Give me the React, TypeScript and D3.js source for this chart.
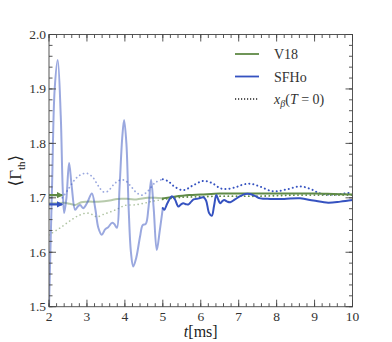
import React from 'react';
import * as d3 from 'd3';

// each series is a list of [t (ms), <Gamma_th>]
const sfhoEarly: [number, number][] = [
  [2.0, 1.5], [2.08, 1.72], [2.15, 1.9], [2.23, 1.953], [2.31, 1.85], [2.36, 1.72],
  [2.4, 1.672], [2.46, 1.7], [2.53, 1.764], [2.6, 1.72], [2.69, 1.678], [2.76, 1.684],
  [2.82, 1.687], [2.9, 1.681], [3.0, 1.69], [3.13, 1.708], [3.22, 1.68], [3.3, 1.645],
  [3.39, 1.632], [3.48, 1.642], [3.56, 1.646], [3.66, 1.654], [3.72, 1.652], [3.79, 1.645],
  [3.86, 1.72], [3.93, 1.81], [3.98, 1.843], [4.04, 1.8], [4.1, 1.68], [4.16, 1.6],
  [4.22, 1.574], [4.3, 1.59], [4.4, 1.629], [4.47, 1.65], [4.55, 1.652], [4.62, 1.68],
  [4.69, 1.733], [4.76, 1.68], [4.84, 1.604], [4.92, 1.64], [5.0, 1.681],
];
const sfhoLate: [number, number][] = [
  [5.0, 1.681], [5.04, 1.678], [5.12, 1.69], [5.24, 1.703], [5.32, 1.697], [5.41, 1.684],
  [5.48, 1.688], [5.54, 1.69], [5.62, 1.688], [5.68, 1.688], [5.75, 1.693], [5.81, 1.697],
  [5.95, 1.699], [6.07, 1.701], [6.14, 1.695], [6.22, 1.672], [6.29, 1.667], [6.35, 1.685],
  [6.41, 1.705], [6.46, 1.697], [6.51, 1.69], [6.57, 1.694], [6.62, 1.696], [6.7, 1.693],
  [6.78, 1.692], [6.9, 1.697], [7.04, 1.703], [7.17, 1.707], [7.3, 1.707], [7.44, 1.703],
  [7.57, 1.699], [7.83, 1.698], [8.2, 1.698], [8.62, 1.699], [8.97, 1.695], [9.36, 1.691],
  [9.68, 1.693], [10.0, 1.696],
];
const v18Early: [number, number][] = [
  [2.0, 1.69], [2.2, 1.69], [2.4, 1.691], [2.55, 1.689], [2.69, 1.687], [2.85, 1.692],
  [3.0, 1.693], [3.3, 1.693], [3.6, 1.695], [3.8, 1.698], [4.1, 1.698], [4.3, 1.697],
  [4.6, 1.7], [4.8, 1.7], [5.0, 1.699],
];
const v18Late: [number, number][] = [
  [5.0, 1.699], [5.3, 1.702], [5.7, 1.705], [6.0, 1.706], [6.5, 1.708], [7.0, 1.708],
  [7.5, 1.708], [8.0, 1.708], [8.5, 1.708], [9.0, 1.708], [9.5, 1.707], [10.0, 1.706],
];
const xbSfhoEarly: [number, number][] = [
  [2.35, 1.7], [2.5, 1.715], [2.7, 1.735], [2.85, 1.743], [3.0, 1.745], [3.15, 1.738],
  [3.3, 1.722], [3.43, 1.711], [3.55, 1.712], [3.7, 1.724], [3.85, 1.732], [4.0, 1.732],
  [4.15, 1.722], [4.3, 1.71], [4.45, 1.705], [4.6, 1.712], [4.8, 1.728], [5.0, 1.734],
];
const xbSfhoLate: [number, number][] = [
  [5.0, 1.734], [5.15, 1.73], [5.3, 1.721], [5.54, 1.714], [5.8, 1.723], [6.07, 1.731],
  [6.3, 1.727], [6.5, 1.718], [6.64, 1.716], [6.9, 1.719], [7.1, 1.724], [7.3, 1.726],
  [7.55, 1.721], [7.83, 1.713], [8.0, 1.712], [8.3, 1.716], [8.62, 1.721], [8.9, 1.716],
  [9.15, 1.708], [9.5, 1.706], [9.8, 1.708], [10.0, 1.71],
];
const xbV18Early: [number, number][] = [
  [2.0, 1.632], [2.3, 1.645], [2.6, 1.66], [2.8, 1.668], [3.0, 1.672], [3.15, 1.669],
  [3.26, 1.665], [3.45, 1.67], [3.65, 1.675], [3.85, 1.681], [4.0, 1.686], [4.25, 1.687],
  [4.5, 1.69], [4.75, 1.694], [5.0, 1.697],
];
const xbV18Late: [number, number][] = [
  [5.0, 1.697], [5.5, 1.701], [6.0, 1.702], [6.5, 1.703], [7.0, 1.703], [7.5, 1.703],
  [8.0, 1.704], [8.5, 1.705], [9.0, 1.705], [9.5, 1.705], [10.0, 1.705],
];
// initial values marked by short arrows at the left edge
const initialArrows = [
  { name: 'V18', value: 1.705, t0: 2.0, t1: 2.42 },
  { name: 'SFHo', value: 1.688, t0: 2.0, t1: 2.42 },
];
const xTicks = [2, 3, 4, 5, 6, 7, 8, 9, 10];
const yTicks = [1.5, 1.6, 1.7, 1.8, 1.9, 2.0];
const legendItems = ['V18', 'SFHo', 'xb'];

const W = 392;
const H = 342;
const m = { top: 34.5, right: 39.5, bottom: 35.3, left: 49 };
const BLUE = '#3552c0';
const GREEN = '#5f8a46';
const FONT = '"Liberation Serif", "DejaVu Serif", serif';

export default function App() {
  const x = d3.scaleLinear().domain([2, 10]).range([m.left, W - m.right]);
  const y = d3.scaleLinear().domain([1.5, 2.0]).range([H - m.bottom, m.top]);
  const line = d3.line<[number, number]>()
    .x(d => x(d[0]))
    .y(d => y(d[1]))
    .curve(d3.curveCatmullRom.alpha(0.5));

  const xMinor = d3.range(2, 10.001, 0.2);
  const yMinor = d3.range(1.5, 2.0001, 0.02);
  const x0 = m.left, x1 = W - m.right, y0 = H - m.bottom, y1 = m.top;
  const tickCol = '#444';

  const colorOf = (n: string) => (n === 'V18' ? GREEN : n === 'SFHo' ? BLUE : '#222');

  return (
    <svg width={W} height={H} style={{ position: 'absolute', left: 0, top: 0 }}>
      <defs>
        <clipPath id="plot">
          <rect x={x0} y={y1} width={x1 - x0} height={y0 - y1} />
        </clipPath>
        <marker id="arrG" viewBox="0 0 10 10" refX="8" refY="5" markerWidth="3" markerHeight="3" orient="auto">
          <path d="M0,0 L10,5 L0,10 z" fill={GREEN} />
        </marker>
        <marker id="arrB" viewBox="0 0 10 10" refX="8" refY="5" markerWidth="3" markerHeight="3" orient="auto">
          <path d="M0,0 L10,5 L0,10 z" fill={BLUE} />
        </marker>
      </defs>
      <rect width={W} height={H} fill="#fff" />

      <g clipPath="url(#plot)" fill="none" strokeLinecap="round">
        <path d={line(xbV18Early)!} stroke={GREEN} strokeOpacity={0.5} strokeWidth={1.6} strokeDasharray="0.1 4" />
        <path d={line(xbSfhoEarly)!} stroke={BLUE} strokeOpacity={0.5} strokeWidth={1.8} strokeDasharray="0.1 4" />
        <path d={line(v18Early)!} stroke={GREEN} strokeOpacity={0.45} strokeWidth={2} />
        <path d={line(sfhoEarly)!} stroke={BLUE} strokeOpacity={0.5} strokeWidth={2} />
        <path d={line(xbV18Late)!} stroke={GREEN} strokeWidth={1.8} strokeDasharray="0.1 4" />
        <path d={line(xbSfhoLate)!} stroke={BLUE} strokeWidth={2} strokeDasharray="0.1 4" />
        <path d={line(v18Late)!} stroke={GREEN} strokeWidth={2} />
        <path d={line(sfhoLate)!} stroke={BLUE} strokeWidth={2} />
        {initialArrows.map(a => (
          <line key={a.name} x1={x(a.t0)} x2={x(a.t1) - 3} y1={y(a.value)} y2={y(a.value)}
            stroke={colorOf(a.name)} strokeWidth={2.2} strokeLinecap="butt"
            markerEnd={a.name === 'V18' ? 'url(#arrG)' : 'url(#arrB)'} />
        ))}
      </g>

      {/* frame */}
      <rect x={x0} y={y1} width={x1 - x0} height={y0 - y1} fill="none" stroke="#555" strokeWidth={1} />

      {/* ticks on all four sides, pointing in */}
      <g stroke={tickCol} strokeWidth={0.9}>
        {xMinor.map((t, i) => (
          <g key={'xm' + i}>
            <line x1={x(t)} x2={x(t)} y1={y0} y2={y0 - 3.5} />
            <line x1={x(t)} x2={x(t)} y1={y1} y2={y1 + 3.5} />
          </g>
        ))}
        {xTicks.map(t => (
          <g key={'xM' + t}>
            <line x1={x(t)} x2={x(t)} y1={y0} y2={y0 - 7} />
            <line x1={x(t)} x2={x(t)} y1={y1} y2={y1 + 7} />
          </g>
        ))}
        {yMinor.map((v, i) => (
          <g key={'ym' + i}>
            <line x1={x0} x2={x0 + 3.5} y1={y(v)} y2={y(v)} />
            <line x1={x1} x2={x1 - 3.5} y1={y(v)} y2={y(v)} />
          </g>
        ))}
        {yTicks.map(v => (
          <g key={'yM' + v}>
            <line x1={x0} x2={x0 + 7} y1={y(v)} y2={y(v)} />
            <line x1={x1} x2={x1 - 7} y1={y(v)} y2={y(v)} />
          </g>
        ))}
      </g>

      <g fontFamily={FONT} fontSize={13.5} fill="#333">
        {xTicks.map(t => (
          <text key={'xl' + t} x={x(t)} y={y0 + 14} textAnchor="middle">{t}</text>
        ))}
        {yTicks.map(v => (
          <text key={'yl' + v} x={x0 - 3} y={y(v) + 4.5} textAnchor="end">{v.toFixed(1)}</text>
        ))}
      </g>

      {/* axis labels */}
      <text x={(x0 + x1) / 2} y={H - 5} textAnchor="middle" fontFamily={FONT} fontSize={16} fill="#222">
        <tspan fontStyle="italic">t</tspan>[ms]
      </text>
      <text transform={`translate(21, ${(y0 + y1) / 2}) rotate(-90)`} textAnchor="middle"
        fontFamily={FONT} fontSize={17} fill="#222">
        ⟨Γ<tspan fontSize={11} dy={4}>th</tspan><tspan dy={-4}>⟩</tspan>
      </text>

      {/* legend */}
      <g fontFamily={FONT} fontSize={14} fill="#333">
        {legendItems.map((n, i) => {
          const ly = 54 + i * 22.5;
          return (
            <g key={n}>
              <line x1={235} x2={259} y1={ly} y2={ly} stroke={colorOf(n)}
                strokeWidth={n === 'xb' ? 1.3 : 1.8}
                strokeDasharray={n === 'xb' ? '1.2 1.8' : undefined} />
              {n === 'xb' ? (
                <text x={274} y={ly + 5}>
                  <tspan fontStyle="italic">x</tspan>
                  <tspan fontStyle="italic" fontSize={10} dy={3}>β</tspan>
                  <tspan dy={-3}>(</tspan>
                  <tspan fontStyle="italic">T</tspan>
                  <tspan> = 0)</tspan>
                </text>
              ) : (
                <text x={274} y={ly + 5}>{n}</text>
              )}
            </g>
          );
        })}
      </g>
    </svg>
  );
}
